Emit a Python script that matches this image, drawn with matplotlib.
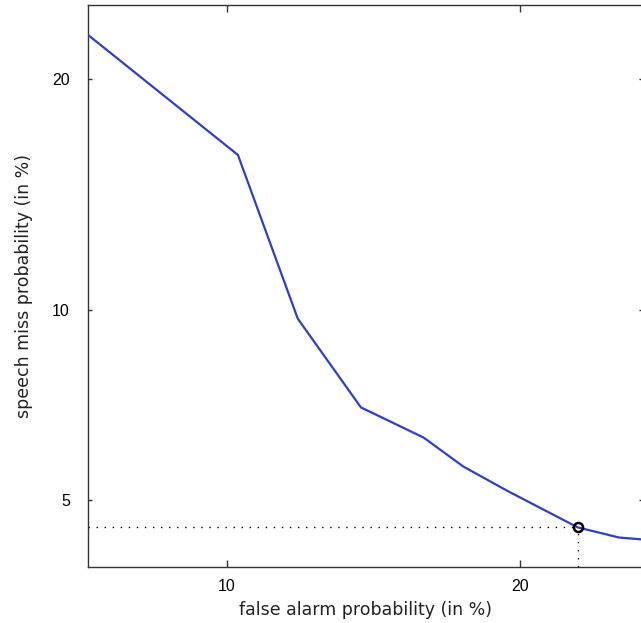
import math
from statistics import NormalDist
import numpy as np
import matplotlib
matplotlib.use("Agg")
import matplotlib.pyplot as plt

# DET curve data (in %)
false_alarm = [6.8, 10.3, 12.0, 14.0, 16.2, 17.7, 19.5, 22.5, 24.4, 25.4, 27.0]
miss = [22.5, 16.2, 9.7, 7.1, 6.35, 5.69, 5.17, 4.48, 4.30, 4.27, 4.2]
op_fa = 22.5
op_miss = 4.48
x_ticks = [10, 20]
y_ticks = [5, 10, 20]

_nd = NormalDist()
_ppf = np.vectorize(lambda p: _nd.inv_cdf(min(max(p / 100.0, 1e-9), 1 - 1e-9)),
                    otypes=[float])
_cdf = np.vectorize(lambda z: 100.0 * 0.5 * (1 + math.erf(z / math.sqrt(2))),
                    otypes=[float])


def fwd(v):
    return _ppf(np.asarray(v, dtype=float))


def inv(v):
    return _cdf(np.asarray(v, dtype=float))


W, H = 641, 623
fig = plt.figure(figsize=(W / 100, H / 100), dpi=100)
left, right, top, bottom = 88, 643, 5, 567
ax = fig.add_axes([left / W, (H - bottom) / H, (right - left) / W, (bottom - top) / H])
ax.set_xscale('function', functions=(fwd, inv))
ax.set_yscale('function', functions=(fwd, inv))
ax.set_xlim(6.82, 25.54)
ax.set_ylim(3.81, 24.2)

ax.plot(false_alarm, miss, color='#3040c0', lw=1.6, zorder=3)
ax.plot([6.82, op_fa], [op_miss, op_miss], color='black', lw=1.0,
        linestyle=(0, (1, 4.8)), zorder=2)
ax.plot([op_fa, op_fa], [3.81, op_miss], color='black', lw=1.0,
        linestyle=(0, (1, 4.8)), zorder=2)
ax.plot([op_fa], [op_miss], marker='o', ms=6.5, mfc='none', mec='black',
        mew=1.8, zorder=4)

ax.set_xticks(x_ticks)
ax.set_yticks(y_ticks)
ax.set_xticklabels([str(t) for t in x_ticks], family='Liberation Sans', fontsize=11.5)
ax.set_yticklabels([str(t) for t in y_ticks], family='Liberation Sans', fontsize=11.5)
ax.minorticks_off()
ax.tick_params(axis='x', direction='in', length=5, width=1, top=True, pad=8.5,
               color='#333333')
ax.tick_params(axis='y', direction='in', length=3, width=1, right=True, pad=13,
               color='#333333')
for s in ax.spines.values():
    s.set_color('#333333')
    s.set_linewidth(1.0)

ax.set_xlabel('false alarm probability (in %)', family='DejaVu Sans',
              fontsize=12.5, color='#222222', labelpad=5)
ax.set_ylabel('speech miss probability (in %)', family='DejaVu Sans',
              fontsize=12.5, color='#222222', labelpad=14)

fig.savefig('out.png', dpi=100)
